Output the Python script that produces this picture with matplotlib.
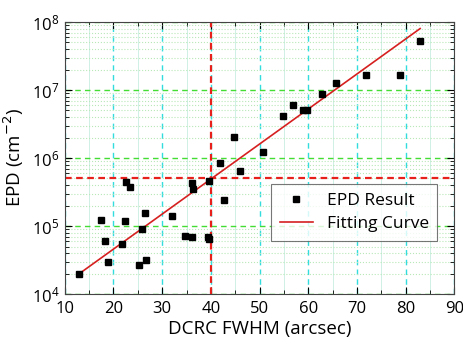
import numpy as np
import matplotlib
matplotlib.use("Agg")
import matplotlib.pyplot as plt
from matplotlib.ticker import LogLocator, MultipleLocator, NullFormatter

plt.rcParams['font.family'] = ['Open Sans', 'DejaVu Sans']

# measured points (FWHM in arcsec, EPD in cm^-2)
fwhm = [13.0, 17.5, 18.3, 18.9, 21.8, 22.3, 22.5, 23.3, 25.2, 25.9, 26.5, 26.7,
        32.0, 34.6, 36.1, 36.1, 36.3, 39.4, 39.6, 39.7, 41.9, 42.8, 44.8, 45.9,
        50.8, 54.8, 56.8, 58.9, 59.7, 62.8, 65.8, 71.9, 78.9, 83.0]
epd = [2.0e4, 1.22e5, 6.1e4, 3.0e4, 5.4e4, 1.19e5, 4.4e5, 3.7e5, 2.67e4, 9.0e4, 1.57e5, 3.2e4,
       1.4e5, 7.2e4, 7.0e4, 4.3e5, 3.5e5, 7.0e4, 6.5e4, 4.6e5, 8.4e5, 2.4e5, 2.06e6, 6.4e5,
       1.22e6, 4.15e6, 6.1e6, 5.1e6, 5.0e6, 8.8e6, 1.25e7, 1.66e7, 1.68e7, 5.25e7]

# fitted line end points
fit_x = [13, 83]
fit_y = [2.0e4, 8.0e7]

# reference markers
ref_x = 40
ref_y = 5e5

fig = plt.figure(figsize=(4.63, 3.38), dpi=100)
ax = fig.add_axes([0.140, 0.130, 0.841, 0.805])

ax.set_yscale('log')
ax.set_xlim(10, 90)
ax.set_ylim(1e4, 1e8)

# grids
ax.xaxis.set_major_locator(MultipleLocator(10))
ax.xaxis.set_minor_locator(MultipleLocator(5))
ax.yaxis.set_major_locator(LogLocator(base=10, numticks=10))
ax.yaxis.set_minor_locator(LogLocator(base=10, subs=np.arange(2, 10), numticks=10))
ax.yaxis.set_minor_formatter(NullFormatter())

ax.grid(which='minor', axis='y', color='#b8e8b8', linestyle=':', linewidth=0.8)
ax.grid(which='minor', axis='x', color='#c8eee0', linestyle='-', linewidth=0.6)
ax.grid(which='major', axis='x', color='#33dddd', linestyle=(0, (4, 3)), linewidth=1.0)
ax.grid(which='major', axis='y', color='#44dd33', linestyle=(0, (4, 3)), linewidth=1.0)
ax.set_axisbelow(True)

ax.axvline(ref_x, color='#e8201c', linestyle=(0, (3, 2)), linewidth=1.6, zorder=2)
ax.axhline(ref_y, color='#e8201c', linestyle=(0, (3, 2)), linewidth=1.6, zorder=2)

ax.plot(fwhm, epd, linestyle='none', marker='s', color='black', markersize=4.6,
        label='EPD Result', zorder=4)
ax.plot(fit_x, fit_y, color='#d62020', linewidth=1.2, label='Fitting Curve', zorder=3)

ax.tick_params(which='both', direction='in', top=True, right=True, labelsize=12)
ax.tick_params(which='major', length=5)
ax.tick_params(which='minor', length=3)
ax.tick_params(axis='x', pad=5)
ax.tick_params(axis='y', pad=4)
for s in ax.spines.values():
    s.set_color('#444444')

ax.set_xlabel('DCRC FWHM (arcsec)', fontsize=13.5, labelpad=2)
ax.set_ylabel('EPD (cm$^{-2}$)', fontsize=13.5)

leg = ax.legend(loc='lower right', bbox_to_anchor=(0.957, 0.195), fontsize=12.5,
                frameon=True, fancybox=False, edgecolor='#555555',
                handlelength=1.9, markerscale=0.8, labelspacing=0.4,
                borderpad=0.5, borderaxespad=0)
leg.get_frame().set_linewidth(0.8)

fig.savefig('out.png', dpi=100)
